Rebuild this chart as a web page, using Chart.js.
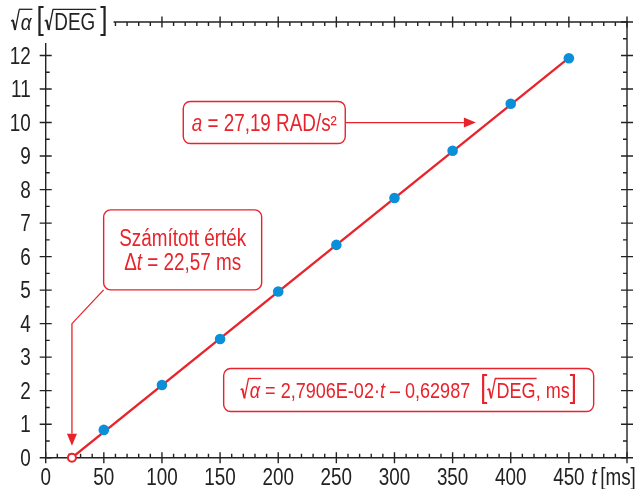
<!DOCTYPE html>
<html>
<head>
<meta charset="utf-8">
<script src="https://cdn.jsdelivr.net/npm/chart.js@4.4.1/dist/chart.umd.min.js"></script>
<style>
  html, body { margin: 0; padding: 0; background: #fff; }
  #wrap { width: 639px; height: 489px; position: relative; }
</style>
</head>
<body>
<div id="wrap"><canvas id="chart"></canvas></div>
<script>
// measured points
const timeMs = [50, 100, 150, 200, 250, 300, 350, 400, 450];
const sqrtAlpha = [0.83, 2.17, 3.54, 4.96, 6.35, 7.75, 9.16, 10.56, 11.92];

// fitted line: starts at the computed Δt, ends at the last point
const fitT = [22.57, 450];
const fitY = [0, 11.93];

const xTickLabels = ["0", "50", "100", "150", "200", "250", "300", "350", "400", "450"];
const yTickLabels = ["0", "1", "2", "3", "4", "5", "6", "7", "8", "9", "10", "11", "12"];

const RED = "#e8232b";
const BLUE = "#0b8fd8";
const INK = "#222";
const FONT = "'Liberation Sans', Arial, sans-serif";
const SX = 0.82; // narrow look: squeeze the Arial-metric font

function font(size, italic) {
  return (italic ? "italic " : "") + size + "px " + FONT;
}

function narrowText(ctx, s, x, y) {
  ctx.save();
  ctx.translate(x, y);
  ctx.scale(SX, 1);
  ctx.fillText(s, 0, 0);
  ctx.restore();
}

// radical sign drawn as a path, returns the point where the overline starts
function radical(ctx, x, by, S) {
  ctx.lineJoin = "miter";
  ctx.lineWidth = 1.3;
  ctx.beginPath();
  ctx.moveTo(x, by - 0.38 * S);
  ctx.lineTo(x + 0.08 * S, by - 0.44 * S);
  ctx.stroke();
  ctx.lineWidth = 2;
  ctx.beginPath();
  ctx.moveTo(x + 0.08 * S, by - 0.44 * S);
  ctx.lineTo(x + 0.18 * S, by);
  ctx.stroke();
  ctx.lineWidth = 1.3;
  ctx.beginPath();
  ctx.moveTo(x + 0.18 * S, by);
  ctx.lineTo(x + 0.36 * S, by - 0.9 * S);
  ctx.stroke();
  return [x + 0.36 * S, by - 0.9 * S];
}

// draws a line of text made of pieces: plain, italic, with radical, big brackets
function drawRich(ctx, segs, x0, base, size, color, align) {
  const parts = segs.map(s => {
    const sz = s.big ? Math.round(size * 1.39) : size;
    const rw = s.rad ? 0.42 * sz : 0;
    ctx.font = font(sz, s.it);
    const tw = ctx.measureText(s.s).width * SX;
    return Object.assign({}, s, { sz, rw, tw, w: rw + tw + (s.pad || 0) });
  });
  const total = parts.reduce((acc, p) => acc + p.w, 0);
  let x = align === "center" ? x0 - total / 2 : x0;
  const left = x;
  ctx.fillStyle = color;
  ctx.strokeStyle = color;
  ctx.textAlign = "left";
  ctx.textBaseline = "alphabetic";
  parts.forEach(p => {
    const by = p.big ? base - 1.5 : base;
    if (p.rad) {
      const [ox, oy] = radical(ctx, x, by, p.sz);
      ctx.lineWidth = 1.3;
      ctx.beginPath();
      ctx.moveTo(ox - 0.3, oy);
      ctx.lineTo(x + p.rw + p.tw + 1, oy);
      ctx.stroke();
    }
    ctx.font = font(p.sz, p.it);
    narrowText(ctx, p.s, x + p.rw, by);
    x += p.w;
  });
  return { left, right: x };
}

function roundRect(ctx, x, y, w, h, r) {
  ctx.beginPath();
  ctx.moveTo(x + r, y);
  ctx.arcTo(x + w, y, x + w, y + h, r);
  ctx.arcTo(x + w, y + h, x, y + h, r);
  ctx.arcTo(x, y + h, x, y, r);
  ctx.arcTo(x, y, x + w, y, r);
  ctx.closePath();
}

function arrow(ctx, pts, color) {
  ctx.strokeStyle = color;
  ctx.fillStyle = color;
  ctx.lineWidth = 1.3;
  const n = pts.length;
  const [tx, ty] = pts[n - 1];
  const [px, py] = pts[n - 2];
  const ang = Math.atan2(ty - py, tx - px);
  const len = 12, half = 5;
  const bx = tx - len * Math.cos(ang), by = ty - len * Math.sin(ang);
  ctx.beginPath();
  ctx.moveTo(pts[0][0], pts[0][1]);
  for (let i = 1; i < n - 1; i++) ctx.lineTo(pts[i][0], pts[i][1]);
  ctx.lineTo(bx, by);
  ctx.stroke();
  ctx.beginPath();
  ctx.moveTo(tx, ty);
  ctx.lineTo(bx - half * Math.sin(ang), by + half * Math.cos(ang));
  ctx.lineTo(bx + half * Math.sin(ang), by - half * Math.cos(ang));
  ctx.closePath();
  ctx.fill();
}

function box(ctx, cx, cy, w, h) {
  roundRect(ctx, cx - w / 2, cy - h / 2, w, h, 7);
  ctx.fillStyle = "#fff";
  ctx.fill();
  ctx.strokeStyle = RED;
  ctx.lineWidth = 1.4;
  ctx.stroke();
}

const frame = {
  id: "frame",
  beforeDatasetsDraw(chart) {
    const { ctx, chartArea: a, scales: { x, y } } = chart;
    ctx.save();

    // y axis title at top-left, it cuts the frame corner
    const title = drawRich(ctx, [
      { s: "\u03B1", it: true, rad: true, pad: 5 },
      { s: "[", big: true, pad: 1 },
      { s: "DEG", rad: true, pad: 5 },
      { s: "]", big: true }
    ], 11, 30, 23, INK, "left");
    const topStart = title.right + 6;
    const leftStart = 43;

    // frame
    ctx.strokeStyle = INK;
    ctx.lineWidth = 1.4;
    ctx.beginPath();
    ctx.moveTo(a.left, leftStart);
    ctx.lineTo(a.left, a.bottom);
    ctx.lineTo(a.right, a.bottom);
    ctx.lineTo(a.right, a.top);
    ctx.lineTo(topStart, a.top);
    ctx.stroke();

    // ticks: majors cross the frame, minors inside
    ctx.beginPath();
    for (let v = 0; v <= 500; v += 10) {
      const px = x.getPixelForValue(v);
      const major = v % 50 === 0;
      const out = major ? 5.5 : 0, inn = major ? 5.5 : 4;
      ctx.moveTo(px, a.bottom + out); ctx.lineTo(px, a.bottom - inn);
      if (px > topStart) { ctx.moveTo(px, a.top - out); ctx.lineTo(px, a.top + inn); }
    }
    for (let v = 0; v <= 13; v += 0.5) {
      const py = y.getPixelForValue(v);
      const major = v % 1 === 0;
      const out = major ? 6 : 0, inn = major ? 6 : 4;
      if (py > leftStart) { ctx.moveTo(a.left - out, py); ctx.lineTo(a.left + inn, py); }
      ctx.moveTo(a.right + out, py); ctx.lineTo(a.right - inn, py);
    }
    ctx.stroke();

    // tick labels
    ctx.fillStyle = INK;
    ctx.font = font(23, false);
    ctx.textBaseline = "alphabetic";
    ctx.textAlign = "center";
    xTickLabels.forEach((lab, i) => narrowText(ctx, lab, x.getPixelForValue(i * 50), 484.7));
    ctx.textAlign = "right";
    yTickLabels.forEach((lab, i) => narrowText(ctx, lab, a.left - 15, y.getPixelForValue(i) + 8.3));

    // x axis title in place of the 500 label
    const xEnd = x.getPixelForValue(500);
    drawRich(ctx, [{ s: "t", it: true, pad: 3.5 }, { s: "[ms]" }], xEnd - 35.5, 484.7, 23, INK, "left");

    ctx.restore();
  }
};

const notes = {
  id: "notes",
  afterDatasetsDraw(chart) {
    const { ctx, scales: { x, y } } = chart;
    ctx.save();

    // annotation: acceleration
    const b1x = x.getPixelForValue(188), b1y = y.getPixelForValue(10.0);
    arrow(ctx, [[b1x + 81, b1y], [x.getPixelForValue(370), b1y]], RED);
    box(ctx, b1x, b1y, 162, 42);
    drawRich(ctx, [{ s: "a", it: true }, { s: " = 27,19 RAD/s\u00B2" }], b1x, b1y + 8.3, 23, RED, "center");

    // annotation: computed Δt
    const b2x = x.getPixelForValue(117.8), b2y = y.getPixelForValue(6.2);
    const zx = x.getPixelForValue(fitT[0]), zy = y.getPixelForValue(fitY[0]);
    arrow(ctx, [[b2x - 79, b2y + 40], [zx, y.getPixelForValue(4.0)], [zx, zy - 12]], RED);
    box(ctx, b2x, b2y, 158, 80);
    drawRich(ctx, [{ s: "Sz\u00E1m\u00EDtott \u00E9rt\u00E9k" }], b2x, b2y - 3.7, 23, RED, "center");
    drawRich(ctx, [{ s: "\u0394" }, { s: "t", it: true }, { s: " = 22,57 ms" }], b2x, b2y + 19.6, 23, RED, "center");

    // annotation: regression equation
    const b3x = x.getPixelForValue(312.2), b3y = y.getPixelForValue(2.02);
    box(ctx, b3x, b3y, 370, 43);
    drawRich(ctx, [
      { s: "\u03B1", it: true, rad: true },
      { s: " = 2,7906E-02\u00B7" },
      { s: "t", it: true },
      { s: " \u2013 0,62987  " },
      { s: "[", big: true },
      { s: "DEG", rad: true },
      { s: ", ms" },
      { s: "]", big: true }
    ], b3x, b3y + 8.3, 22, RED, "center");

    ctx.restore();
  }
};

new Chart(document.getElementById("chart"), {
  type: "scatter",
  data: {
    datasets: [
      {
        type: "line",
        data: fitT.map((t, i) => ({ x: t, y: fitY[i] })),
        borderColor: RED,
        borderWidth: 2.3,
        pointRadius: 0,
        order: 3
      },
      {
        data: timeMs.map((t, i) => ({ x: t, y: sqrtAlpha[i] })),
        backgroundColor: BLUE,
        borderColor: BLUE,
        borderWidth: 0,
        pointRadius: 5.3,
        order: 2
      },
      {
        data: [{ x: fitT[0], y: fitY[0] }],
        backgroundColor: "#fff",
        borderColor: RED,
        borderWidth: 2,
        pointRadius: 4,
        clip: false,
        order: 1
      }
    ]
  },
  options: {
    responsive: true,
    maintainAspectRatio: false,
    animation: false,
    events: [],
    layout: { padding: { top: 22, right: 12, left: 0, bottom: 0 } },
    plugins: { legend: { display: false }, tooltip: { enabled: false } },
    scales: {
      x: {
        type: "linear",
        min: 0,
        max: 500,
        afterFit: s => { s.height = 31.3; },
        grid: { display: false, drawTicks: false },
        border: { display: false },
        ticks: { stepSize: 50, display: false }
      },
      y: {
        min: 0,
        max: 13,
        afterFit: s => { s.width = 45.7; },
        grid: { display: false, drawTicks: false },
        border: { display: false },
        ticks: { stepSize: 1, display: false }
      }
    }
  },
  plugins: [frame, notes]
});
</script>
</body>
</html>
